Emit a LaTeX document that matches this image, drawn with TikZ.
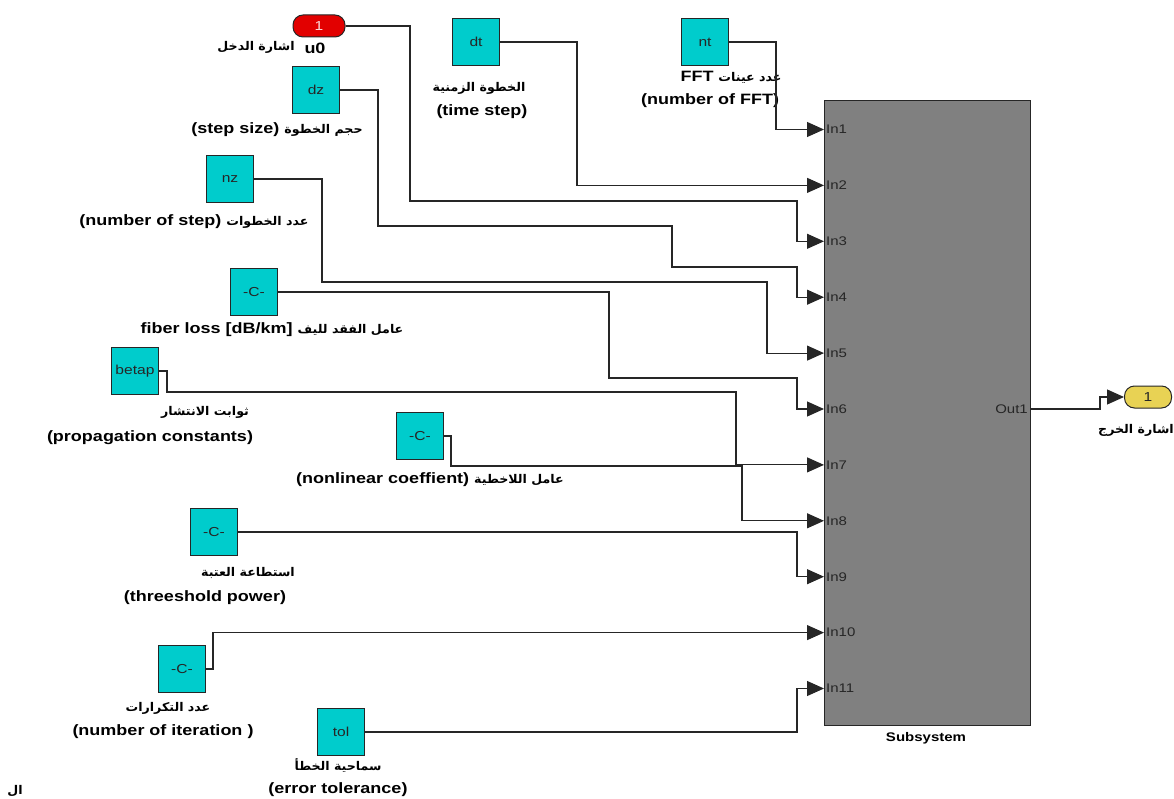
\documentclass[tikz,border=0pt]{standalone}
\usepackage{fontspec}
\setmainfont{Liberation Sans}[FakeStretch=1.2]
\newfontfamily\arabicfont[Script=Arabic,FakeStretch=1.05]{DejaVu Sans}
\TeXXeTstate=1
\usetikzlibrary{arrows.meta, positioning, calc}
\definecolor{block1}{RGB}{0,204,204}
\definecolor{gray1}{RGB}{128,128,128}
\definecolor{red1}{RGB}{226,0,0}
\definecolor{yellow1}{RGB}{232,210,84}
\newcommand{\artxt}[1]{{\arabicfont\fontsize{12}{14}\selectfont\beginR #1\endR}}

\begin{document}
\begin{tikzpicture}[x=1pt, y=-1pt,
    block/.style={draw=black!85, fill=block1, line width=1pt, minimum width=47pt, minimum height=47pt, inner sep=0pt, text=black!85, font=\fontsize{13}{15}\selectfont},
    iport/.style={draw=black!85, line width=1pt, rounded corners=10pt, minimum height=22pt, inner sep=0pt, font=\fontsize{13}{15}\selectfont},
    lbl/.style={inner sep=1pt, font=\fontsize{15}{18}\selectfont\bfseries},
    wire/.style={line width=1.1pt, black!85},
    sig/.style={wire, -{Triangle[length=17pt, width=15pt]}}]
  \useasboundingbox (0,0) rectangle (1174,799);

  % subsystem and its ports
  \node[draw=black!85, fill=gray1, line width=1pt, minimum width=206pt, minimum height=625pt, anchor=north west, inner sep=0pt] (sub) at (824,100) {};
  \foreach \i in {1,...,11} {
    \coordinate (in\i) at (824,{129.5+55.9*(\i-1)});
    \node[anchor=west, inner sep=2pt, text=black!85, font=\fontsize{12.5}{14}\selectfont] at (in\i) {In\i};
  }
  \coordinate (out1) at (1030,409);
  \node[anchor=east, inner sep=2pt, text=black!85, font=\fontsize{12.5}{14}\selectfont] at (out1) {Out1};
  \node[lbl, font=\fontsize{12.5}{14}\selectfont\bfseries] at (926,738) {Subsystem};

  % source blocks
  \node[iport, fill=red1, text=white!85!red1, minimum width=52pt] (u0) at (319,26) {1};
  \node[block] (dt) at (476,42) {dt};
  \node[block] (nt) at (705,42) {nt};
  \node[block] (dz) at (316,90) {dz};
  \node[block] (nz) at (230,179) {nz};
  \node[block] (fiberc) at (254,292) {-C-};
  \node[block] (betap) at (135,371) {betap};
  \node[block] (nlc) at (420,436) {-C-};
  \node[block] (thrc) at (214,532) {-C-};
  \node[block] (iterc) at (182,669) {-C-};
  \node[block] (tol) at (341,732) {tol};
  \node[iport, fill=yellow1, text=black!85, minimum width=47pt] (yout) at (1148,397) {1};

  % labels
  \node[lbl] at (256,47) {\artxt{اشارة الدخل}};
  \node[lbl] at (315,48) {u0};
  \node[lbl] at (277,130) {(step size) \artxt{حجم الخطوة}};
  \node[lbl] at (479,88) {\artxt{الخطوة الزمنية}};
  \node[lbl] at (482,112) {(time step)};
  \node[lbl] at (731,77) {FFT \artxt{عدد عينات}};
  \node[lbl] at (710,101) {(number of FFT)};
  \node[lbl] at (194,222) {(number of step) \artxt{عدد الخطوات}};
  \node[lbl] at (272,330) {fiber loss [dB/km] \artxt{عامل الفقد لليف}};
  \node[lbl] at (205,412) {\artxt{ثوابت الانتشار}};
  \node[lbl] at (150,438) {(propagation constants)};
  \node[lbl] at (430,480) {(nonlinear coeffient) \artxt{عامل اللاخطية}};
  \node[lbl] at (248,573) {\artxt{استطاعة العتبة}};
  \node[lbl] at (205,598) {(threeshold power)};
  \node[lbl] at (168,708) {\artxt{عدد التكرارات}};
  \node[lbl] at (163,732) {(number of iteration )};
  \node[lbl] at (338,766) {\artxt{سماحية الخطأ}};
  \node[lbl] at (338,790) {(error tolerance)};
  \node[lbl] at (1136,430) {\artxt{اشارة الخرج}};
  \node[lbl] at (15,791) {\artxt{ال}};

  % signal lines
  \draw[sig] (nt.east) -| ([xshift=-48pt]in1) -- (in1);
  \draw[sig] (dt.east) -| ([xshift=-247pt]in2) -- (in2);
  \draw[sig] (u0.east) -| (410,201) -| ([xshift=-27pt]in3) -- (in3);
  \draw[sig] (dz.east) -| (378,226) -| (672,267) -| ([xshift=-27pt]in4) -- (in4);
  \draw[sig] (nz.east) -| (322,282) -| ([xshift=-57pt]in5) -- (in5);
  \draw[sig] (fiberc.east) -| (609,378) -| ([xshift=-27pt]in6) -- (in6);
  \draw[sig] (betap.east) -| (167,392) -| ([xshift=-88pt]in7) -- (in7);
  \draw[sig] (nlc.east) -| (451,466) -| ([xshift=-82pt]in8) -- (in8);
  \draw[sig] (thrc.east) -| ([xshift=-27pt]in9) -- (in9);
  \draw[sig] (iterc.east) -- ++(7,0) |- (in10);
  \draw[sig] (tol.east) -| ([xshift=-27pt]in11) -- (in11);
  \draw[sig] (out1) -- ++(70,0) |- (yout.west);
\end{tikzpicture}
\end{document}
